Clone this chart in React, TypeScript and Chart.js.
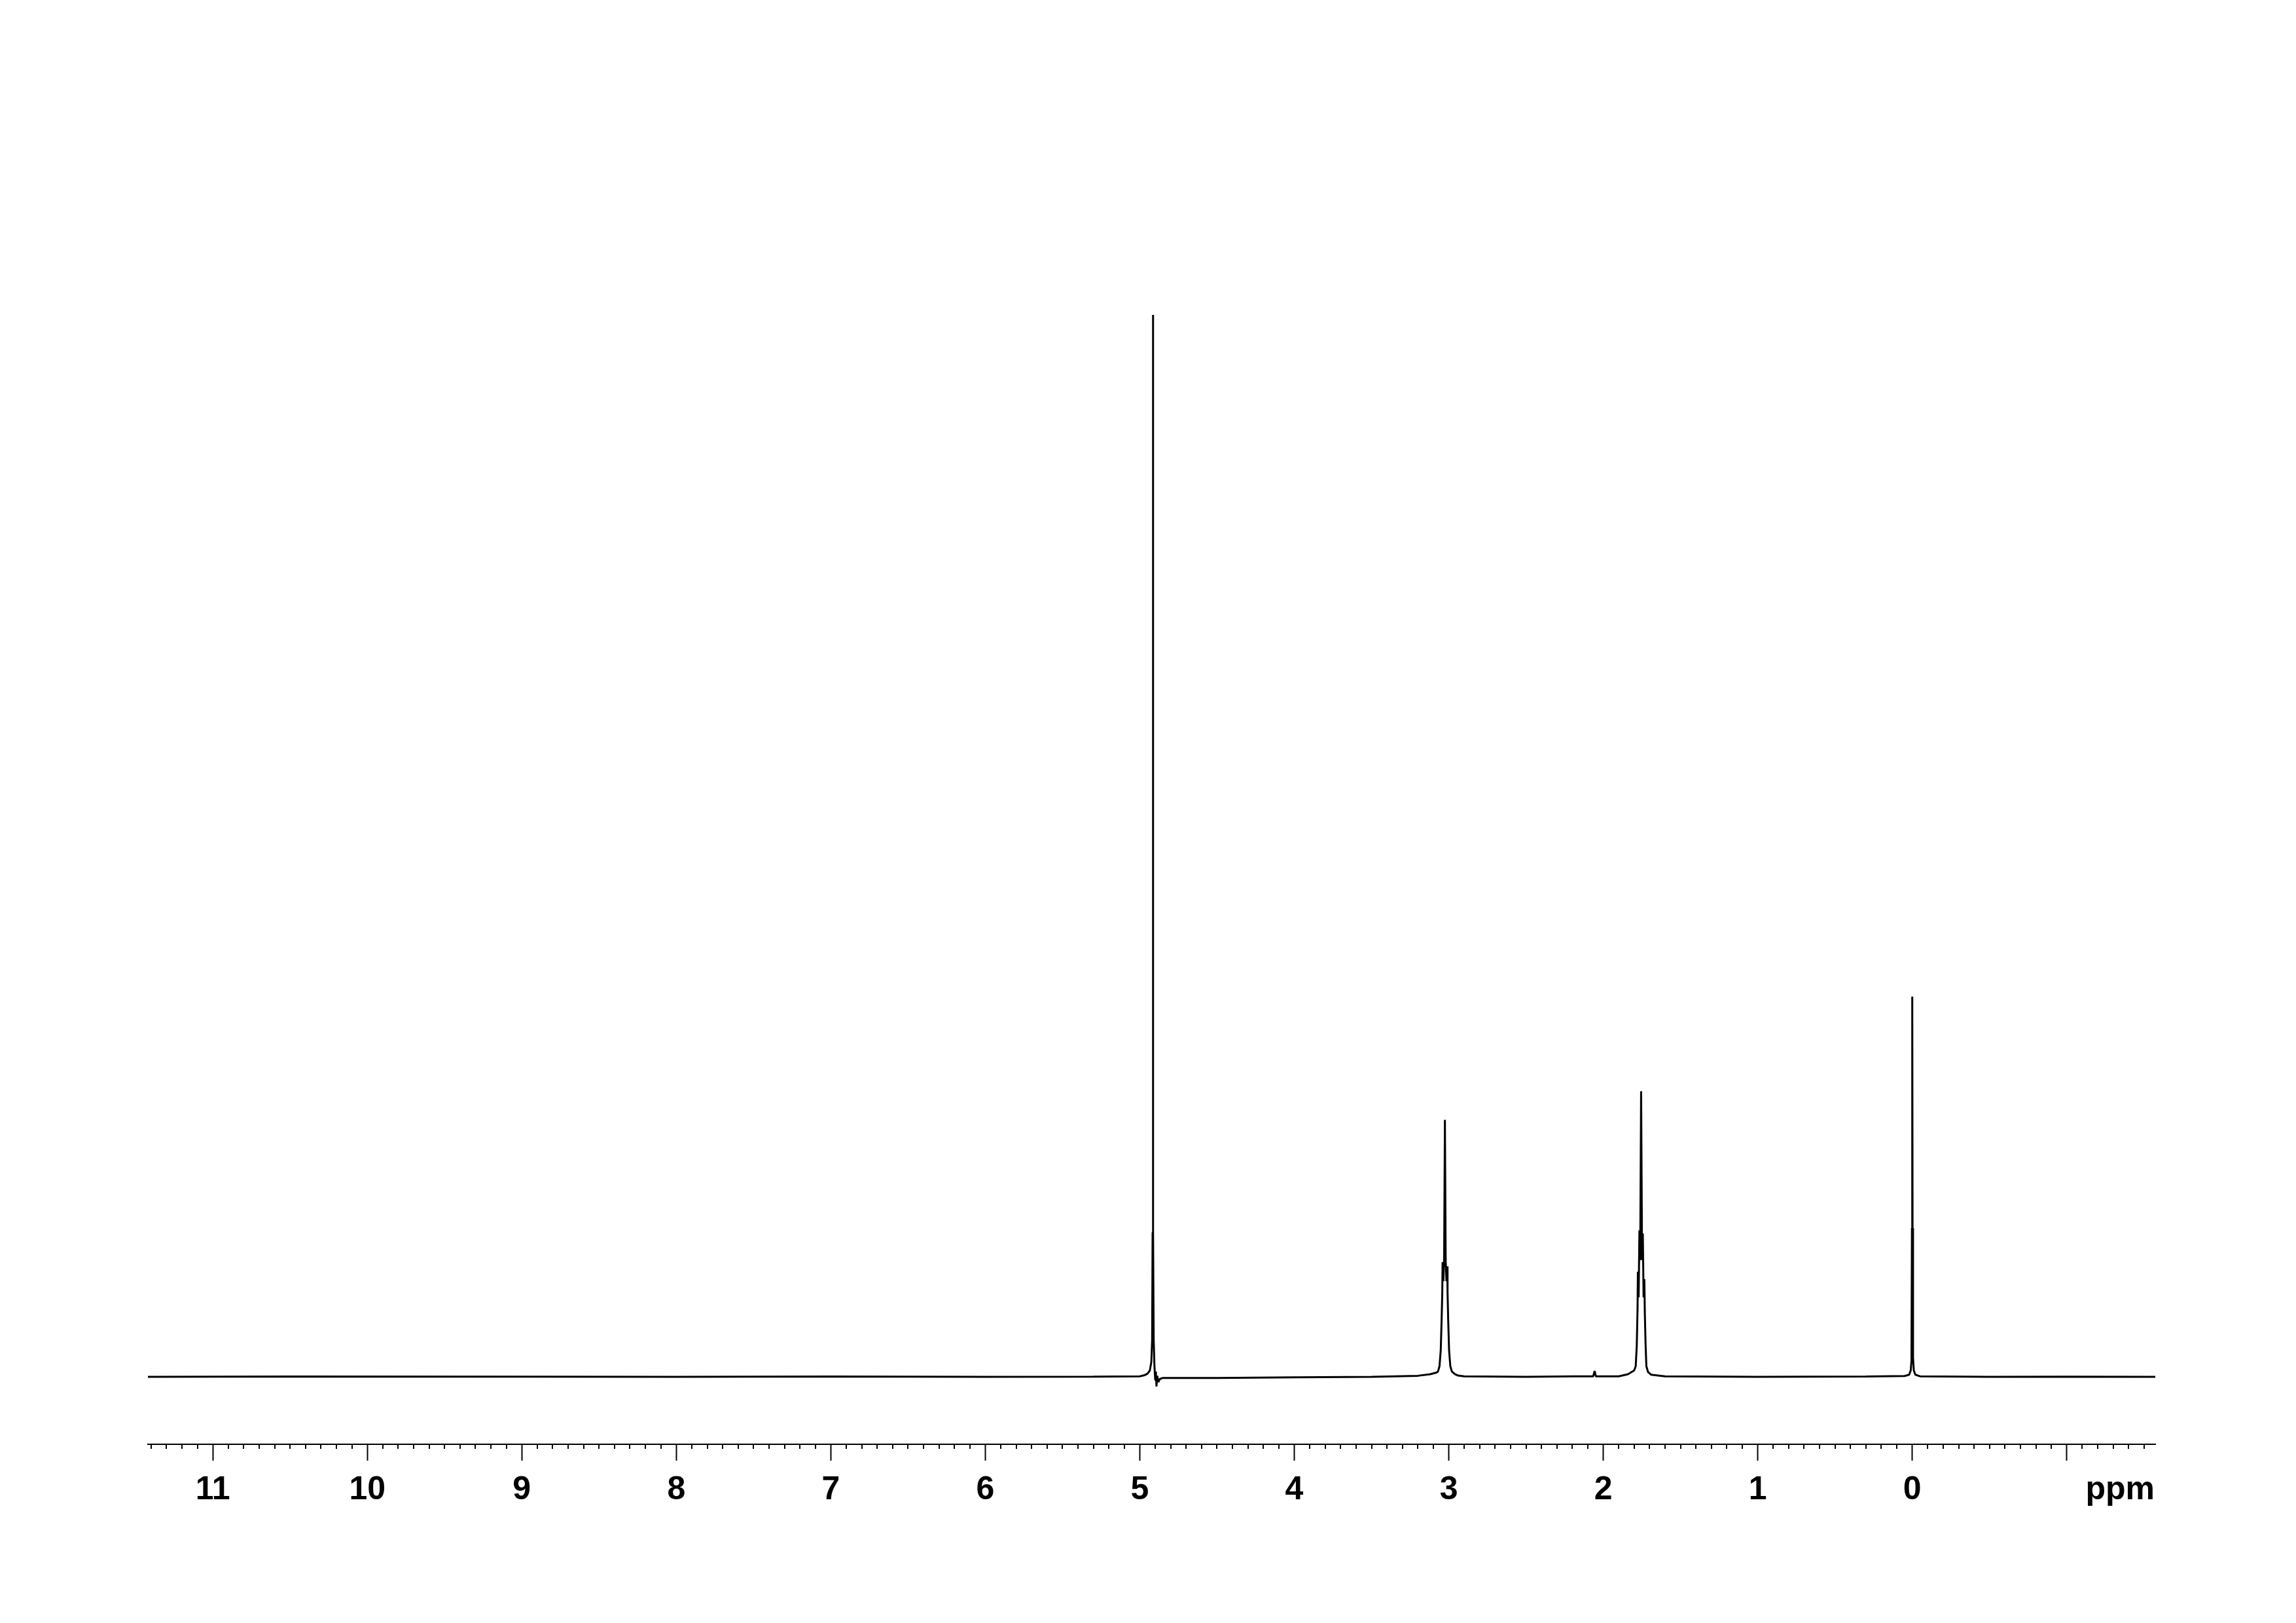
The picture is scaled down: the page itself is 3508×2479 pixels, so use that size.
import React, { useEffect, useRef } from 'react';
import { Chart, registerables } from 'chart.js';

Chart.register(...registerables);

// ---- axis / tick data ----
const PPM_LEFT = 11.42;
const PPM_RIGHT = -1.573;
const MAJOR_TICKS = [11, 10, 9, 8, 7, 6, 5, 4, 3, 2, 1, 0, -1];
const TICK_LABELS = ['11', '10', '9', '8', '7', '6', '5', '4', '3', '2', '1', '0', ''];
const UNIT_LABEL = 'ppm';
const UNIT_LABEL_POS = -1.345;
const MINOR_STEP = 0.1;

// ---- spectrum data (chemical shift in ppm, intensity in relative units) ----
const baselineA_ppm = [11.42, 10.5, 9.0, 8.0, 7.0, 6.0, 5.3, 5.0];
const baselineA_int = [0.0, 0.03, 0.02, 0.0, 0.03, 0.0, 0.02, 0.05];

const peakA_ppm = [4.97, 4.95, 4.935, 4.925, 4.92, 4.917, 4.915, 4.913, 4.91, 4.905, 4.9, 4.896, 4.892, 4.887, 4.88, 4.87, 4.85];
const peakA_int = [0.15, 0.3, 0.6, 1.4, 3.5, 13.6, 100, 13.6, 3.5, 1.0, -0.3, 0.5, -0.9, 0.1, -0.5, -0.2, -0.1];

const baselineB_ppm = [4.5, 4.0, 3.5, 3.2, 3.12, 3.08];
const baselineB_int = [-0.1, -0.05, 0.0, 0.1, 0.25, 0.4];

const peakB_ppm = [3.07, 3.06, 3.052, 3.046, 3.042, 3.04, 3.035, 3.03, 3.025, 3.02, 3.015, 3.01, 3.008, 3.004, 2.998, 2.99, 2.98, 2.96, 2.94];
const peakB_int = [0.5, 1.0, 2.5, 5.5, 8.0, 10.8, 9.0, 11.0, 24.2, 11.0, 9.0, 10.4, 8.0, 5.5, 2.5, 1.0, 0.5, 0.25, 0.12];

const baselineC_ppm = [2.9, 2.5, 2.2, 2.065, 2.056, 2.048, 1.9, 1.84, 1.8];
const baselineC_int = [0.05, 0.0, 0.05, 0.05, 0.55, 0.05, 0.05, 0.25, 0.6];

const peakC_ppm = [1.79, 1.783, 1.778, 1.776, 1.771, 1.766, 1.761, 1.755, 1.749, 1.744, 1.739, 1.734, 1.731, 1.726, 1.721, 1.71, 1.69];
const peakC_int = [1.0, 3.0, 6.5, 9.9, 7.5, 13.8, 11.0, 26.9, 11.0, 13.5, 7.5, 9.2, 6.0, 3.0, 1.0, 0.45, 0.2];

const baselineD_ppm = [1.6, 1.0, 0.3, 0.05];
const baselineD_int = [0.05, 0.0, 0.03, 0.08];

const peakD_ppm = [0.02, 0.01, 0.005, 0.002, 0.0, -0.002, -0.005, -0.01, -0.02, -0.05];
const peakD_int = [0.2, 0.6, 1.5, 14.0, 35.8, 14.0, 1.8, 0.6, 0.2, 0.05];

const baselineE_ppm = [-0.5, -1.0, -1.573];
const baselineE_int = [0.0, 0.02, 0.0];

const Y_MIN = -6.35;
const Y_MAX = 105;

const SEGMENTS: [number[], number[]][] = [
  [baselineA_ppm, baselineA_int],
  [peakA_ppm, peakA_int],
  [baselineB_ppm, baselineB_int],
  [peakB_ppm, peakB_int],
  [baselineC_ppm, baselineC_int],
  [peakC_ppm, peakC_int],
  [baselineD_ppm, baselineD_int],
  [peakD_ppm, peakD_int],
  [baselineE_ppm, baselineE_int],
];

const FONT = "'Liberation Sans', Arial, Helvetica, sans-serif";

export default function App() {
  const ref = useRef<HTMLCanvasElement | null>(null);

  useEffect(() => {
    if (!ref.current) return;
    const points: { x: number; y: number }[] = [];
    SEGMENTS.forEach(([xs, ys]) => xs.forEach((x, i) => points.push({ x, y: ys[i] })));

    const minorTicks = {
      id: 'minorTicks',
      afterDraw(chart: any) {
        const scale = chart.scales.x;
        const ctx = chart.ctx;
        const top = chart.chartArea.bottom;
        ctx.save();
        ctx.strokeStyle = '#000';
        ctx.lineWidth = 2;
        ctx.beginPath();
        const start = Math.ceil(PPM_RIGHT / MINOR_STEP);
        const end = Math.floor(PPM_LEFT / MINOR_STEP);
        for (let k = start; k <= end; k++) {
          if (k % 10 === 0) continue;
          const v = k * MINOR_STEP;
          const px = Math.round(scale.getPixelForValue(v));
          ctx.moveTo(px, top);
          ctx.lineTo(px, top + 7);
        }
        ctx.stroke();
        ctx.restore();
      },
    };

    const chart = new Chart(ref.current, {
      type: 'line',
      data: {
        datasets: [
          {
            data: points,
            borderColor: '#000',
            borderWidth: 3,
            pointRadius: 0,
            tension: 0,
            fill: false,
            borderJoinStyle: 'bevel',
          },
        ],
      },
      options: {
        animation: false,
        responsive: false,
        devicePixelRatio: 1,
        parsing: true,
        layout: { padding: { left: 226, right: 215, top: 400, bottom: 123 } },
        plugins: { legend: { display: false }, tooltip: { enabled: false }, title: { display: false } },
        scales: {
          x: {
            type: 'linear',
            reverse: true,
            min: PPM_RIGHT,
            max: PPM_LEFT,
            afterBuildTicks: (scale: any) => {
              const t = MAJOR_TICKS.map((v) => ({ value: v }));
              t.push({ value: UNIT_LABEL_POS });
              t.sort((a, b) => a.value - b.value);
              scale.ticks = t;
            },
            afterFit: (scale: any) => {
              scale.height = 150;
            },
            ticks: {
              autoSkip: false,
              maxRotation: 0,
              minRotation: 0,
              padding: 15,
              color: '#000',
              font: { family: FONT, size: 50, weight: 'bold' },
              callback: (value: any) => {
                const v = Number(value);
                if (Math.abs(v - UNIT_LABEL_POS) < 1e-6) return UNIT_LABEL;
                const idx = MAJOR_TICKS.findIndex((m) => Math.abs(m - v) < 1e-6);
                return idx >= 0 ? TICK_LABELS[idx] : '';
              },
            },
            grid: {
              display: true,
              drawOnChartArea: false,
              drawTicks: true,
              tickLength: 25,
              tickWidth: 2,
              tickColor: (c: any) =>
                c.tick && Math.abs(c.tick.value - UNIT_LABEL_POS) < 1e-6 ? 'rgba(0,0,0,0)' : '#000',
            },
            border: { display: true, color: '#000', width: 2 },
          },
          y: {
            type: 'linear',
            display: false,
            min: Y_MIN,
            max: Y_MAX,
          },
        },
      },
      plugins: [minorTicks],
    } as any);

    return () => chart.destroy();
  }, []);

  return (
    <div style={{ position: 'absolute', left: 0, top: 0, width: 3508, height: 2479, background: '#fff' }}>
      <canvas ref={ref} width={3508} height={2479} style={{ display: 'block' }} />
    </div>
  );
}
